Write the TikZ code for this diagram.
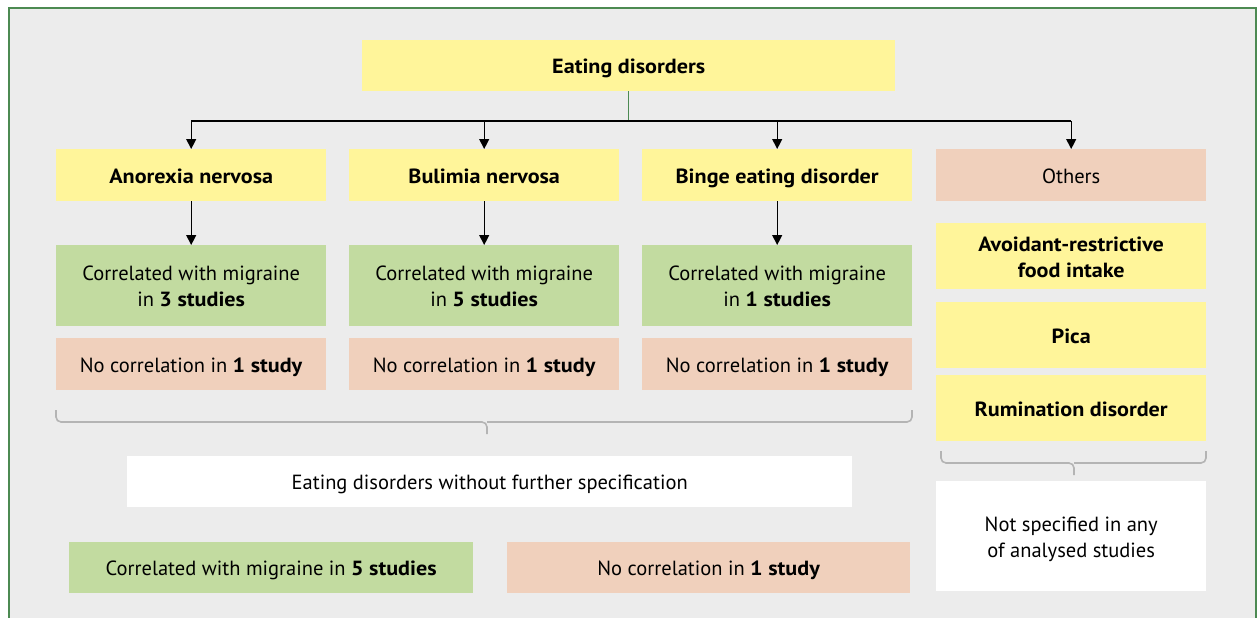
\documentclass[tikz,border=0pt]{standalone}
\usepackage{fontspec}
\setmainfont{PT Sans}[BoldFeatures={FakeStretch=1.08}]
\usetikzlibrary{arrows.meta}
\definecolor{bg}{HTML}{ECECEC}
\definecolor{frame}{HTML}{4C8A52}
\definecolor{yel}{HTML}{FFF59A}
\definecolor{grn}{HTML}{C2DBA0}
\definecolor{pch}{HTML}{F0D0BC}
\definecolor{brc}{HTML}{B4B4B4}
\tikzset{
  box/.style={anchor=north west, inner sep=0pt, align=center, font=\fontsize{20.5}{26}\selectfont},
  ybox/.style={box, fill=yel},
  gbox/.style={box, fill=grn},
  pbox/.style={box, fill=pch},
  wbox/.style={box, fill=white},
  arr/.style={line width=1.2pt, -{Triangle[width=10pt,length=10pt]}},
  brace/.style={draw=brc, line width=1.6pt, rounded corners=5pt}
}
\newcommand{\mystr}{\vrule height 0.81\baselineskip depth 0.19\baselineskip width 0pt\relax}
\begin{document}
\begin{tikzpicture}[x=1pt,y=-1pt]
\useasboundingbox (0,0) rectangle (1258,618);
\fill[white] (0,0) rectangle (1258,618);
\fill[bg] (9,8) rectangle (1256,630);
\draw[frame, line width=1.6pt] (9,640) -- (9,8) -- (1256,8) -- (1256,640);
% top
\node[ybox, minimum width=533pt, minimum height=51pt] (top) at (362,40) {\mystr\textbf{Eating disorders}};
% row 2
\node[ybox, minimum width=270pt, minimum height=52pt] (an) at (56,149) {\mystr\textbf{Anorexia nervosa}};
\node[ybox, minimum width=270pt, minimum height=52pt] (bn) at (349,149) {\mystr\textbf{Bulimia nervosa}};
\node[ybox, minimum width=270pt, minimum height=52pt] (be) at (642,149) {\mystr\textbf{Binge eating disorder}};
\node[pbox, minimum width=270pt, minimum height=52pt] (ot) at (936,149) {\mystr Others};
% green
\node[gbox, minimum width=270pt, minimum height=81pt] (ga) at (56,245) {\mystr Correlated with migraine\\\mystr in \textbf{3 studies}};
\node[gbox, minimum width=270pt, minimum height=81pt] (gb) at (349,245) {\mystr Correlated with migraine\\\mystr in \textbf{5 studies}};
\node[gbox, minimum width=270pt, minimum height=81pt] (gc) at (642,245) {\mystr Correlated with migraine\\\mystr in \textbf{1 studies}};
% peach
\node[pbox, minimum width=270pt, minimum height=52pt] (pa) at (56,338) {\mystr No correlation in \textbf{1 study}};
\node[pbox, minimum width=270pt, minimum height=52pt] (pb) at (349,338) {\mystr No correlation in \textbf{1 study}};
\node[pbox, minimum width=270pt, minimum height=52pt] (pc) at (642,338) {\mystr No correlation in \textbf{1 study}};
% others column
\node[ybox, minimum width=270pt, minimum height=66pt] (av) at (936,223) {\mystr\textbf{Avoidant-restrictive}\\\mystr\textbf{food intake}};
\node[ybox, minimum width=270pt, minimum height=66pt] (pi) at (936,302) {\mystr\textbf{Pica}};
\node[ybox, minimum width=270pt, minimum height=66pt] (ru) at (936,375) {\mystr\textbf{Rumination disorder}};
\node[wbox, minimum width=270pt, minimum height=110pt] (ns) at (936,481) {\mystr Not specified in any\\\mystr of analysed studies};
% bottom
\node[wbox, minimum width=725pt, minimum height=51pt] (ef) at (127,456) {\mystr Eating disorders without further specification};
\node[gbox, minimum width=404pt, minimum height=51pt] (bg1) at (69,542) {\mystr Correlated with migraine in \textbf{5 studies}};
\node[pbox, minimum width=403pt, minimum height=51pt] (bp1) at (507,542) {\mystr No correlation in \textbf{1 study}};
% connectors
\coordinate (hub) at (top.south |- 0,121);
\draw[frame, line width=1.2pt] (top.south) -- (hub);
\draw[line width=1.2pt] (an.north |- hub) -- (ot.north |- hub);
\draw[arr] (an.north |- hub) -- (an.north);
\draw[arr] (bn.north |- hub) -- (bn.north);
\draw[arr] (be.north |- hub) -- (be.north);
\draw[arr] (ot.north |- hub) -- (ot.north);
\draw[arr] (an.south) -- (ga.north);
\draw[arr] (bn.south) -- (gb.north);
\draw[arr] (be.south) -- (gc.north);
% braces
\draw[brace] (56,410) -- (56,422) -- (487,422) -- (487,434);
\draw[brace] (487,422) -- (912,422) -- (912,410);
\draw[brace] (941,451) -- (941,463) -- (1074,463) -- (1074,475);
\draw[brace] (1074,463) -- (1206,463) -- (1206,451);
\end{tikzpicture}
\end{document}
